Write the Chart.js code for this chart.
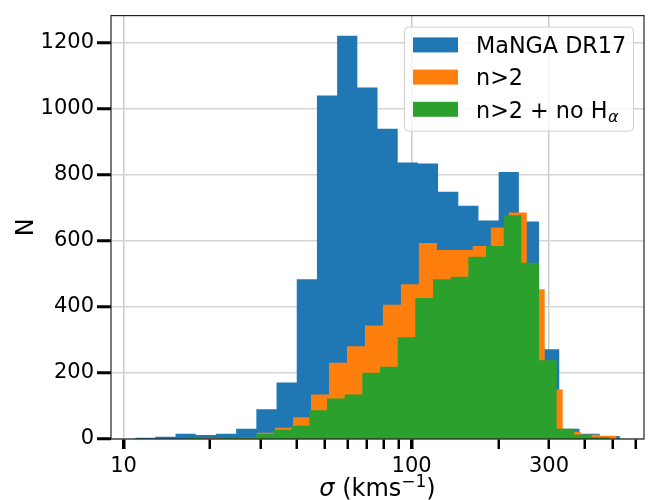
<!DOCTYPE html>
<html>
<head>
<meta charset="utf-8">
<script src="https://cdn.jsdelivr.net/npm/chart.js@4.4.0/dist/chart.umd.min.js"></script>
<style>
  html, body { margin: 0; padding: 0; background: #fff; }
  #wrap { width: 655px; height: 500px; }
</style>
</head>
<body>
<div id="wrap"><canvas id="chart" width="655" height="500"></canvas></div>
<script>
// bin edges (km/s, log spaced) and counts
const edgesAll = [10.98, 12.90, 15.16, 17.82, 20.94, 24.61, 28.92, 33.99, 39.94, 46.93, 55.16, 64.82,
  76.18, 89.52, 105.2, 123.6, 145.3, 170.7, 200.6, 235.8, 277.1, 325.6, 382.6, 449.7, 528.5];
const countsAll = [4, 7, 16, 12, 16, 31, 90, 171, 484, 1041, 1222, 1065, 940, 838, 835, 749, 707, 662,
  809, 659, 272, 31, 16, 9];

const edgesSersic = [18.90, 21.82, 25.19, 29.08, 33.57, 38.77, 44.76, 51.68, 59.66, 68.88, 79.52, 91.82,
  106.0, 122.4, 141.3, 163.1, 188.4, 217.5, 251.1, 289.9, 334.7, 386.4, 446.1, 515.0];
const countsSersic = [2, 2, 4, 19, 34, 66, 135, 231, 281, 344, 407, 469, 594, 573, 573, 585, 641, 686,
  454, 150, 22, 13, 10];

const edgesNoHa = [16.43, 18.92, 21.79, 25.10, 28.91, 33.29, 38.34, 44.16, 50.85, 58.58, 67.45, 77.68,
  89.48, 103.0, 118.7, 136.7, 157.4, 181.3, 208.8, 240.4, 276.9, 318.9, 367.3, 423.0, 487.1];
const countsNoHa = [3, 1, 3, 2, 16, 28, 40, 87, 123, 135, 201, 219, 308, 427, 484, 492, 552, 585, 678,
  534, 239, 31, 13, 5];

const seriesLabels = ['MaNGA DR17', 'n>2', 'n>2 + no H_α'];
const seriesColors = ['#1f77b4', '#ff7f0e', '#2ca02c'];

const xTicks = [10, 20, 30, 40, 50, 60, 70, 80, 90, 100, 200, 300, 400, 500, 600];
const xLabelled = [10, 100, 300];
const yTicks = [0, 200, 400, 600, 800, 1000, 1200];

Chart.defaults.font.family = '"DejaVu Sans", sans-serif';
Chart.defaults.color = '#000';

// histogram as a filled step line: one point per left edge, closing at the last edge
function histPoints(edges, counts) {
  const pts = counts.map((c, i) => ({ x: edges[i], y: c }));
  pts.push({ x: edges[edges.length - 1], y: 0 });
  return pts;
}

function histDataset(i, edges, counts) {
  return {
    label: seriesLabels[i],
    data: histPoints(edges, counts),
    stepped: 'before',
    fill: 'origin',
    backgroundColor: seriesColors[i],
    borderWidth: 0,
    pointRadius: 0,
    order: 3 - i
  };
}

const extras = {
  id: 'extras',
  afterDatasetsDraw(chart) {
    const { ctx, chartArea: a } = chart;
    ctx.save();
    ctx.strokeStyle = '#222';
    ctx.lineWidth = 1.2;
    ctx.strokeRect(a.left, a.top, a.right - a.left, a.bottom - a.top);
    ctx.restore();
  },
  afterDraw(chart) {
    const { ctx, chartArea: a } = chart;
    ctx.save();

    // legend box, upper right inside the axes
    const boxW = 229, boxH = 104;
    const bx = a.right - 11 - boxW, by = a.top + 11;
    ctx.beginPath();
    ctx.roundRect(bx + 0.5, by + 0.5, boxW, boxH, 4);
    ctx.fillStyle = 'rgba(255,255,255,0.8)';
    ctx.fill();
    ctx.strokeStyle = '#d0d0d0';
    ctx.lineWidth = 1;
    ctx.stroke();

    chart.data.datasets.forEach((ds, i) => {
      const cy = by + 18.3 + i * 32.2;
      ctx.fillStyle = ds.backgroundColor;
      ctx.fillRect(bx + 9, cy - 7.5, 45, 15);
      const [main, sub] = ds.label.split('_');
      const base = cy + 8.2;
      ctx.fillStyle = '#000';
      ctx.textBaseline = 'alphabetic';
      ctx.textAlign = 'left';
      ctx.font = '22.3px "DejaVu Sans"';
      ctx.fillText(main, bx + 72, base);
      if (sub) {
        const w = ctx.measureText(main).width;
        ctx.font = 'italic 16px "DejaVu Sans"';
        ctx.fillText(sub, bx + 72 + w + 0.5, base + 4.5);
      }
    });

    // x axis title: sigma (kms^-1)
    const parts = [
      { t: 'σ', font: 'italic 24px "DejaVu Sans"', dy: 0 },
      { t: ' (kms', font: '24px "DejaVu Sans"', dy: 0 },
      { t: '−1', font: '17px "DejaVu Sans"', dy: -9.5 },
      { t: ')', font: '24px "DejaVu Sans"', dy: 0 }
    ];
    let total = 0;
    parts.forEach(p => { ctx.font = p.font; p.w = ctx.measureText(p.t).width; total += p.w; });
    let x = (a.left + a.right) / 2 - total / 2;
    const baseY = a.bottom + 57;
    parts.forEach(p => {
      ctx.font = p.font;
      ctx.fillText(p.t, x, baseY + p.dy);
      x += p.w;
    });
    ctx.restore();
  }
};

new Chart(document.getElementById('chart'), {
  type: 'line',
  data: {
    datasets: [
      histDataset(0, edgesAll, countsAll),
      histDataset(1, edgesSersic, countsSersic),
      histDataset(2, edgesNoHa, countsNoHa)
    ]
  },
  options: {
    responsive: false,
    animation: false,
    layout: { padding: { top: 9, right: 11, left: 0, bottom: 0 } },
    plugins: { legend: { display: false }, tooltip: { enabled: false } },
    scales: {
      x: {
        type: 'logarithmic',
        min: 9.05,
        max: 641,
        afterBuildTicks: s => { s.ticks = xTicks.map(v => ({ value: v })); },
        afterFit: s => { s.height = 61; },
        border: { display: false },
        grid: {
          color: c => xLabelled.includes(c.tick && c.tick.value) ? '#cccccc' : 'rgba(0,0,0,0)',
          lineWidth: 1.5,
          drawTicks: true,
          tickLength: 10,
          tickColor: '#000',
          tickWidth: c => (c.tick && (c.tick.value === 10 || c.tick.value === 100)) ? 3.5 : 2.5
        },
        ticks: {
          autoSkip: false,
          maxRotation: 0,
          padding: 5,
          font: { size: 21 },
          color: '#000',
          callback: v => xLabelled.includes(v) ? String(v) : ''
        }
      },
      y: {
        type: 'linear',
        min: 0,
        max: 1283,
        afterBuildTicks: s => { s.ticks = yTicks.map(v => ({ value: v })); },
        afterFit: s => { s.width = 111; },
        border: { display: false },
        grid: {
          color: '#d4d4d4',
          lineWidth: 1.5,
          drawTicks: true,
          tickLength: 14,
          tickColor: '#000',
          tickWidth: 3
        },
        ticks: {
          padding: 3,
          font: { size: 21 },
          color: '#000',
          callback: v => String(v)
        },
        title: {
          display: true,
          text: 'N',
          font: { size: 24 },
          color: '#000',
          padding: { top: 12, bottom: 0 }
        }
      }
    }
  },
  plugins: [extras]
});
</script>
</body>
</html>
